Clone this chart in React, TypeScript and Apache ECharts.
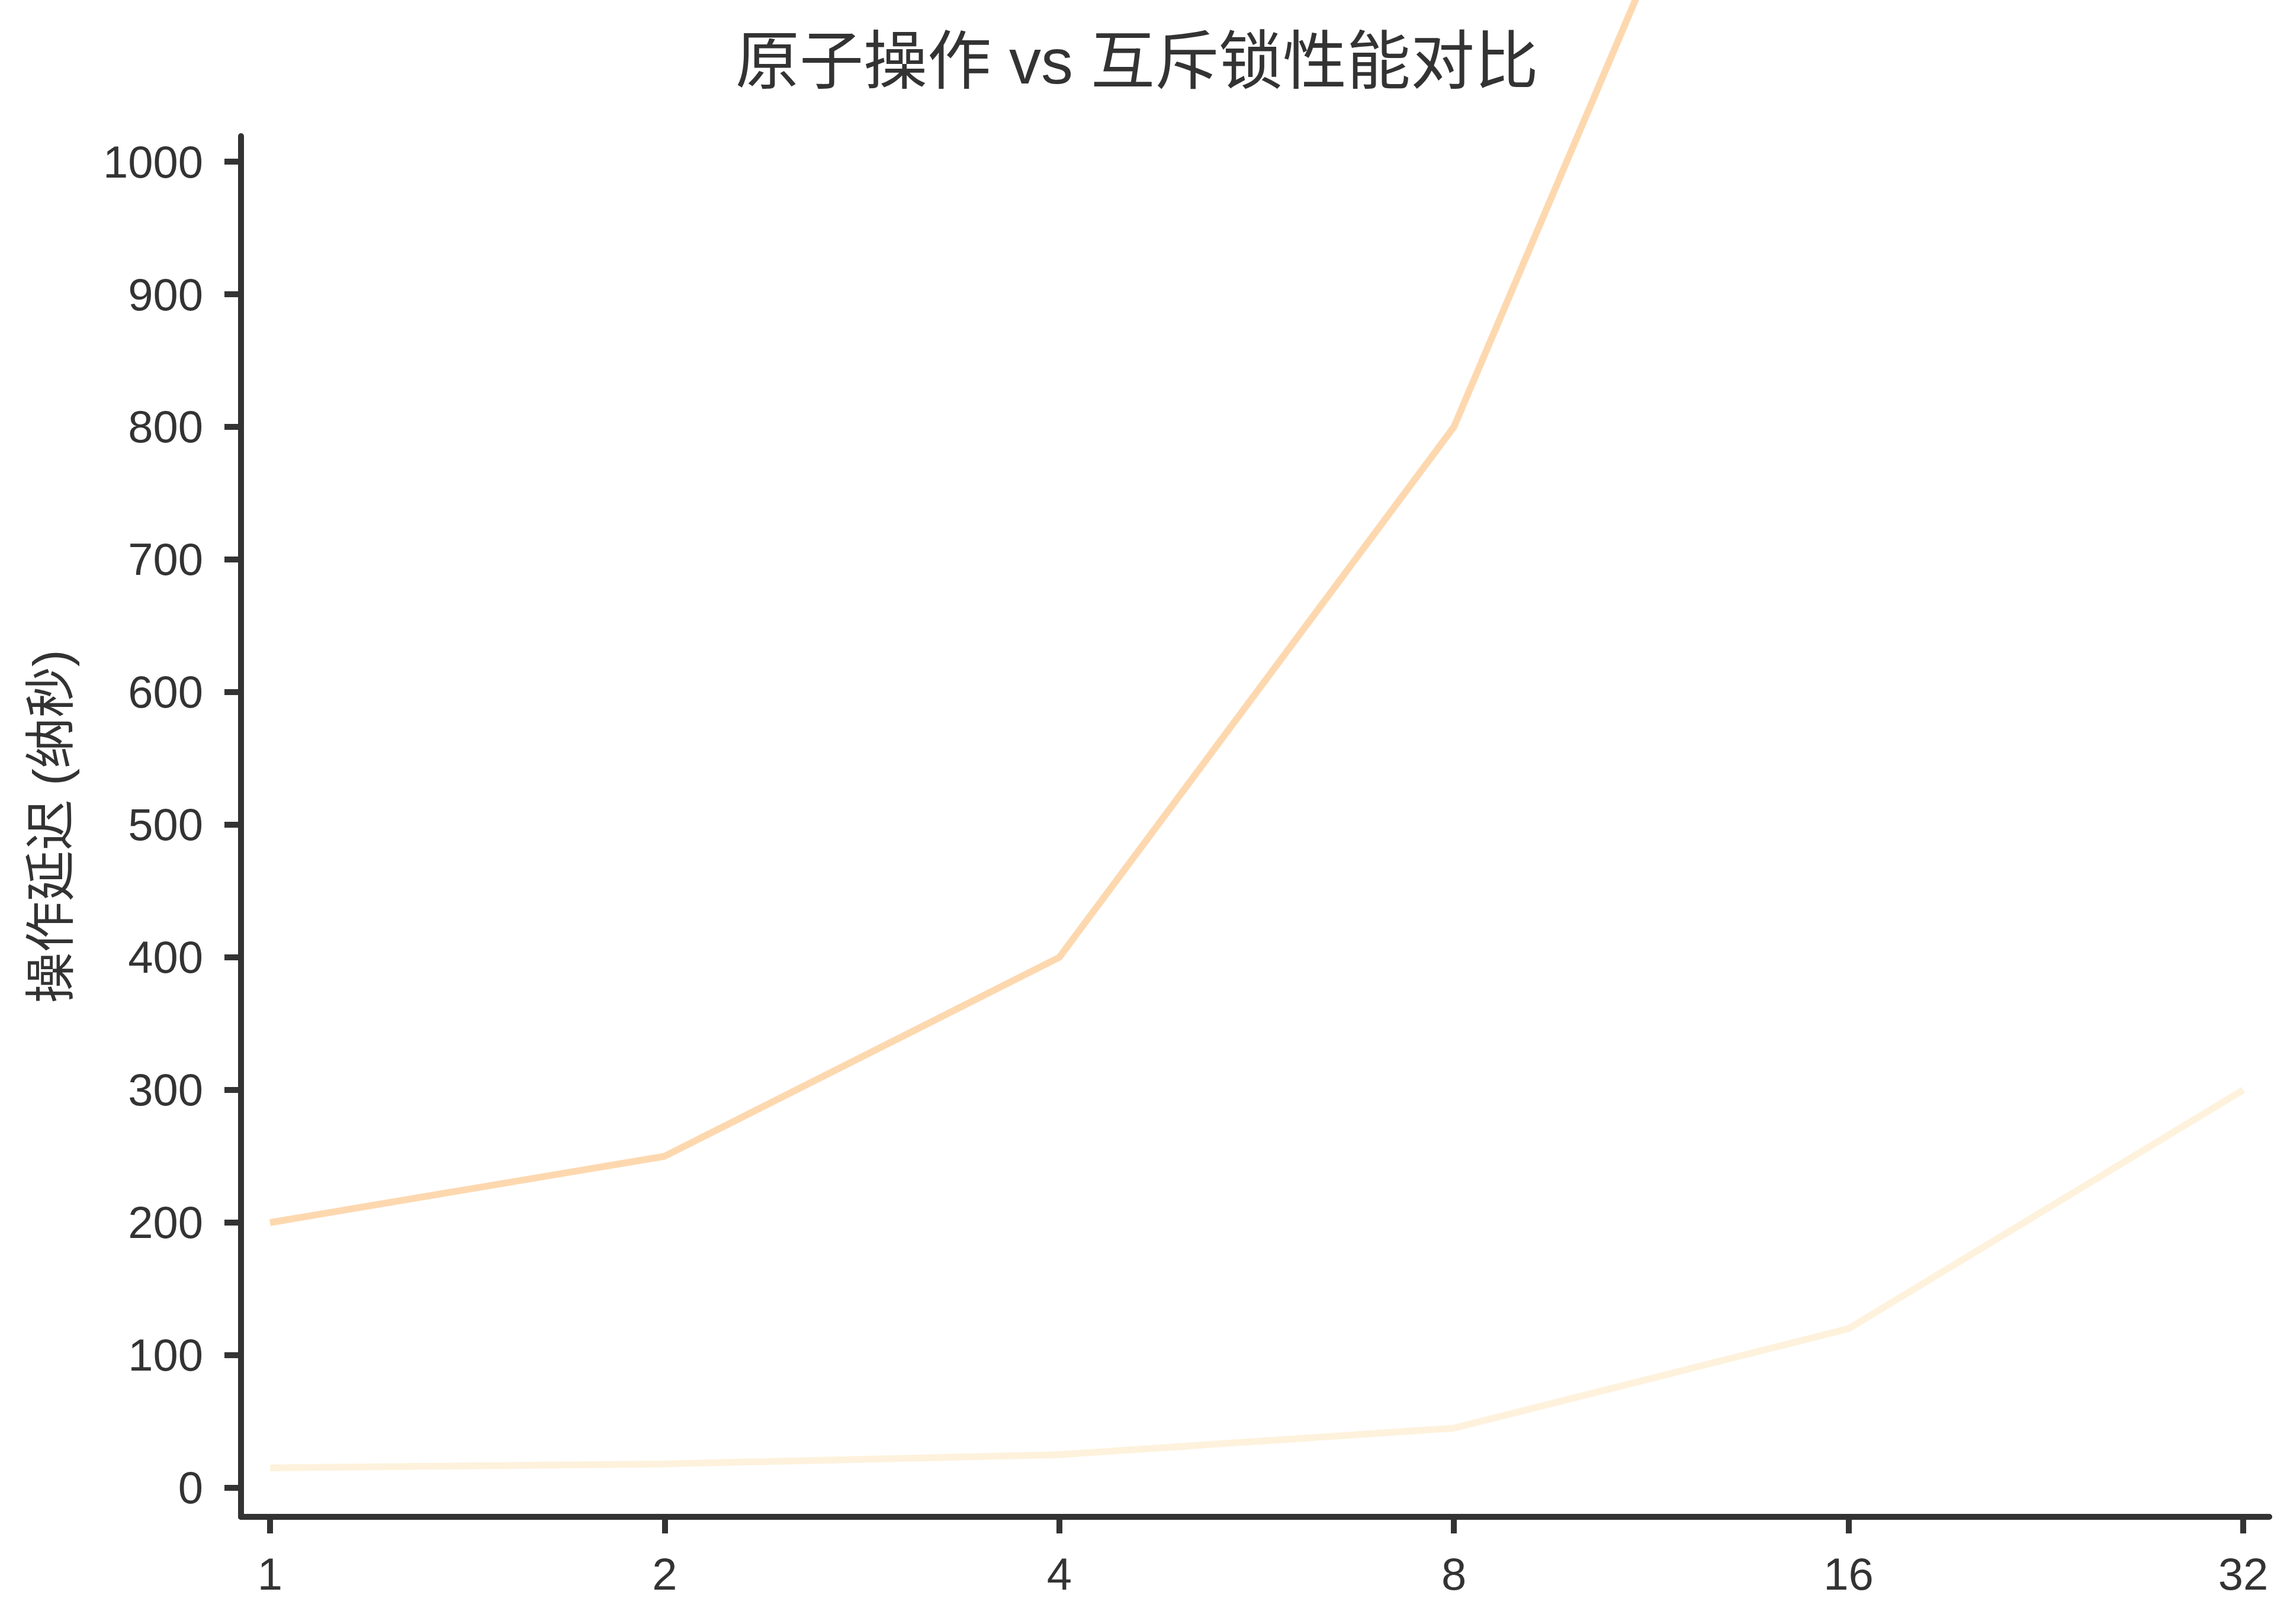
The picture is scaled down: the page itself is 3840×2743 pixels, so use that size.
import { useEffect, useRef } from 'react'
import * as echarts from 'echarts'

// 线程数
const threadCounts = ['1', '2', '4', '8', '16', '32']
// 操作延迟（纳秒）
const mutexLatency = [200, 250, 400, 800, 1500, 3000]
const atomicLatency = [15, 18, 25, 45, 120, 300]
const yTicks = [0, 100, 200, 300, 400, 500, 600, 700, 800, 900, 1000]

const INK = '#333333'
const LATIN = '"Liberation Sans", Arial, "Noto Sans CJK SC", sans-serif'

export default function App() {
  const chartRef = useRef<HTMLDivElement | null>(null)

  useEffect(() => {
    document.body.style.margin = '0'
    if (!chartRef.current) return
    const chart = echarts.init(chartRef.current, undefined, { renderer: 'svg' })

    chart.setOption({
      animation: false,
      backgroundColor: '#ffffff',
      title: {
        text: '原子操作 vs 互斥锁性能对比',
        left: 'center',
        top: 44,
        textStyle: { color: INK, fontSize: 108, fontWeight: 'normal', fontFamily: LATIN }
      },
      grid: { left: 407, right: 8, top: 230, bottom: 181 },
      xAxis: {
        type: 'value',
        min: -0.0735,
        max: 5.066,
        axisLine: { show: true, onZero: false, lineStyle: { color: INK, width: 10 } },
        axisTick: { show: true, length: 28, lineStyle: { color: INK, width: 10 }, customValues: [0, 1, 2, 3, 4, 5] },
        axisLabel: {
          customValues: [0, 1, 2, 3, 4, 5],
          formatter: (v: number) => threadCounts[Math.round(v)] ?? '',
          color: INK,
          fontSize: 76,
          fontFamily: LATIN,
          margin: 58
        },
        splitLine: { show: false }
      },
      yAxis: {
        type: 'value',
        min: -21.9,
        max: 1019.2,
        name: '操作延迟 (纳秒)',
        nameLocation: 'middle',
        nameRotate: 90,
        nameGap: 278,
        nameTextStyle: { color: INK, fontSize: 86, fontFamily: LATIN },
        axisLine: { show: true, onZero: false, lineStyle: { color: INK, width: 10 } },
        axisTick: { show: true, length: 28, lineStyle: { color: INK, width: 10 }, customValues: yTicks },
        axisLabel: {
          customValues: yTicks,
          formatter: (v: number) => String(Math.round(v)),
          color: INK,
          fontSize: 76,
          fontFamily: LATIN,
          margin: 64
        },
        splitLine: { show: false }
      },
      series: [
        {
          type: 'line',
          name: '互斥锁',
          data: mutexLatency.map((v, i) => [i, v]),
          symbol: 'none',
          clip: false,
          lineStyle: { color: '#FDD8AF', width: 11.5 }
        },
        {
          type: 'line',
          name: '原子操作',
          data: atomicLatency.map((v, i) => [i, v]),
          symbol: 'none',
          clip: false,
          lineStyle: { color: '#FEF2DD', width: 11.5 }
        }
      ]
    })

    return () => chart.dispose()
  }, [])

  return <div ref={chartRef} style={{ width: 3840, height: 2743 }} />
}
